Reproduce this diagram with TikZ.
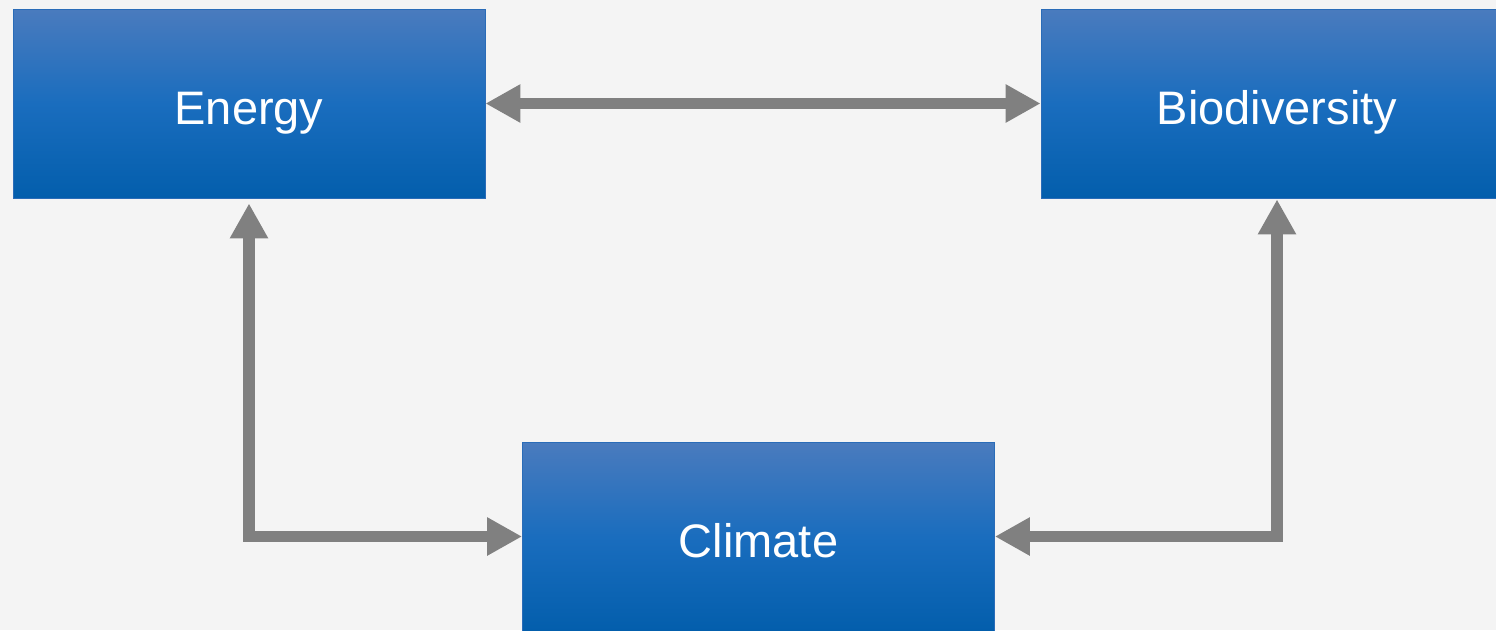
\documentclass[tikz,border=0pt]{standalone}
\usepackage{fontspec}
\setmainfont{Liberation Sans}
\usetikzlibrary{arrows.meta}
\definecolor{bgc}{HTML}{F4F4F4}
\definecolor{btop}{HTML}{4A7BBE}
\definecolor{bmid}{HTML}{1A6DBE}
\definecolor{bbot}{HTML}{035EAC}
\definecolor{bline}{HTML}{2A6CB8}
\definecolor{arrc}{HTML}{808080}
\tikzset{
  topicbox/.style={rectangle, draw=bline, line width=0.8pt, top color=btop, bottom color=bbot, middle color=bmid,
    minimum width=472pt, minimum height=189pt, inner sep=0pt, text=white,
    font=\fontsize{47}{56}\selectfont, text height=41pt, text depth=0pt},
  link/.style={draw=arrc, line width=11.5pt, {Triangle[length=35pt,width=36pt]}-{Triangle[length=35pt,width=36pt]}}
}
\begin{document}
\begin{tikzpicture}[x=1pt,y=-1pt]
\useasboundingbox (0,0) rectangle (1496,630);
\clip (0,0) rectangle (1496,630);
\fill[bgc] (0,0) rectangle (1496,630);
\node[topicbox] (E) at (249,103.5) {Energy};
\node[topicbox] (B) at (1277,103.5) {Biodiversity};
\node[topicbox] (C) at (758.5,536.5) {Climate};
\draw[link] (E.east) -- (B.west);
\draw[link, shorten <=5pt] (E.south) -- (E.south |- C.west) -- (C.west);
\draw[link, shorten <=1pt] (B.south) -- (B.south |- C.east) -- (C.east);
\end{tikzpicture}
\end{document}
